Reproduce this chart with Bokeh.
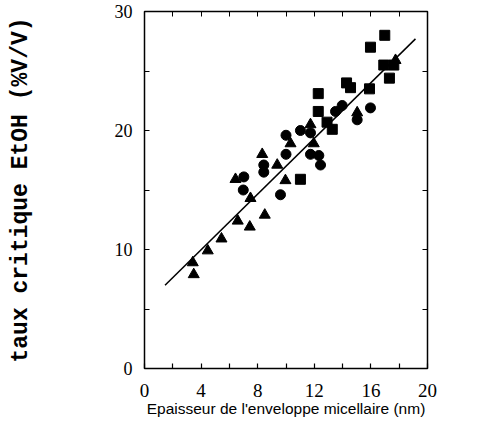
from bokeh.plotting import figure
from bokeh.models import FixedTicker, LinearAxis, Range1d
from bokeh.embed import file_html
from bokeh.resources import INLINE

# Squares
sq_x = [16.98, 15.97, 16.91, 17.62, 17.31, 14.28, 14.56, 15.90, 12.28, 12.28, 13.27, 11.02, 12.9]
sq_y = [28.0, 27.0, 25.5, 25.5, 24.4, 24.0, 23.6, 23.5, 23.1, 21.6, 20.1, 15.9, 20.7]
# Circles
ci_x = [15.97, 13.5, 13.97, 15.03, 11.02, 10.0, 11.73, 10.0, 11.73, 12.32, 12.44, 8.43, 8.43, 7.02, 6.98, 9.61]
ci_y = [21.9, 21.6, 22.1, 20.9, 20.0, 19.6, 19.8, 18.0, 18.0, 17.9, 17.1, 17.1, 16.5, 16.1, 15.0, 14.6]
# Triangles
tr_x = [17.74, 15.03, 11.73, 10.32, 11.96, 8.32, 9.38, 9.96, 6.43, 7.49, 8.5, 6.59, 7.44, 5.44, 4.47, 3.41, 3.48]
tr_y = [25.9, 21.5, 20.5, 18.9, 18.9, 18.0, 17.1, 15.8, 15.9, 14.3, 12.9, 12.4, 11.9, 10.9, 9.9, 8.9, 7.9]
# Fit line endpoints
fit_x = [1.45, 19.15]
fit_y = [7.0, 27.7]

x_ticks = [0, 2, 4, 6, 8, 10, 12, 14, 16, 18, 20]
x_labels = {0: "0", 4: "4", 8: "8", 12: "12", 16: "16", 20: "20"}
y_ticks = [0, 5, 10, 15, 20, 25, 30]
y_labels = {0: "0", 10: "10", 20: "20", 30: "30"}

p = figure(width=496, height=434, output_backend="svg", toolbar_location=None,
           x_range=Range1d(0, 20), y_range=Range1d(0, 30),
           min_border_left=144, min_border_right=69, min_border_top=11, min_border_bottom=66)
p.background_fill_color = "white"
p.border_fill_color = "white"
p.grid.visible = False
p.outline_line_color = "black"
p.outline_line_width = 1.5

p.line(fit_x, fit_y, line_color="black", line_width=1.5)
p.scatter(sq_x, sq_y, marker="square", size=10, color="black")
p.scatter(ci_x, ci_y, marker="circle", size=10, color="black")
p.scatter(tr_x, tr_y, marker="triangle", size=11, color="black")

xo = {t: x_labels.get(t, "") for t in x_ticks}
yo = {t: y_labels.get(t, "") for t in y_ticks}

for ax in p.xaxis:
    ax.ticker = FixedTicker(ticks=x_ticks)
    ax.major_label_overrides = xo
    ax.axis_label = "Epaisseur de l'enveloppe micellaire (nm)"
    ax.axis_label_text_font = "Liberation Sans"
    ax.axis_label_text_font_style = "normal"
    ax.axis_label_text_font_size = "15.5px"
    ax.axis_label_standoff = 0
    ax.major_label_text_font = "Liberation Serif"
    ax.major_label_text_font_size = "19px"
    ax.major_label_standoff = 15

for ax in p.yaxis:
    ax.ticker = FixedTicker(ticks=y_ticks)
    ax.major_label_overrides = yo
    ax.axis_label = "taux critique EtOH (%V/V)"
    ax.axis_label_text_font = "Liberation Mono"
    ax.axis_label_text_font_style = "bold"
    ax.axis_label_text_font_size = "23px"
    ax.axis_label_standoff = 78
    ax.major_label_text_font = "Liberation Serif"
    ax.major_label_text_font_size = "18px"
    ax.major_label_standoff = 12

for ax in list(p.xaxis) + list(p.yaxis):
    ax.axis_line_color = None
    ax.major_tick_in = 5
    ax.major_tick_out = 0
    ax.minor_tick_line_color = None
    ax.major_tick_line_color = "black"
    ax.major_tick_line_width = 1.2
    ax.major_label_text_color = "black"
    ax.axis_label_text_color = "black"

top = LinearAxis(ticker=FixedTicker(ticks=x_ticks), major_label_text_color=None,
                 major_tick_in=5, major_tick_out=0, minor_tick_line_color=None,
                 axis_line_color=None, major_label_standoff=0,
                 major_label_overrides={t: "" for t in x_ticks})
right = LinearAxis(ticker=FixedTicker(ticks=y_ticks), major_label_text_color=None,
                   major_tick_in=5, major_tick_out=0, minor_tick_line_color=None,
                   axis_line_color=None, major_label_standoff=0,
                   major_label_overrides={t: "" for t in y_ticks})
p.add_layout(top, "above")
p.add_layout(right, "right")

open("out.html", "w").write(file_html(p, INLINE))
